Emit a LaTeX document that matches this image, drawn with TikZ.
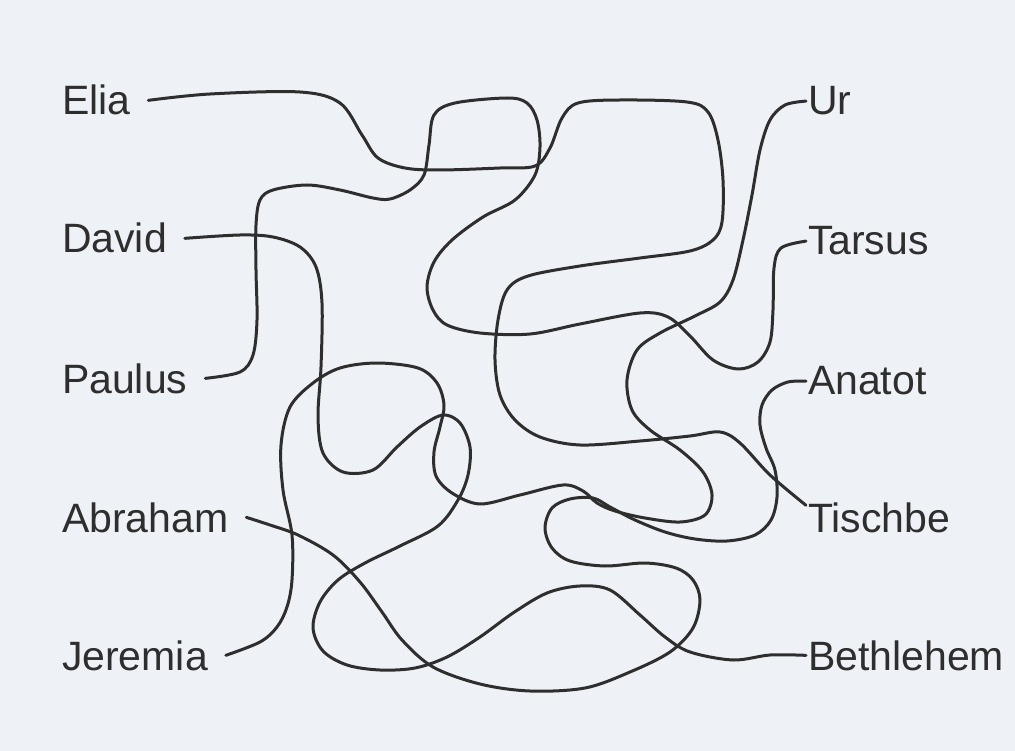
\documentclass[tikz,border=0pt]{standalone}
\usepackage{fontspec}
\setmainfont{Liberation Sans}
\definecolor{paper}{RGB}{238,241,246}
\definecolor{ink}{RGB}{46,46,46}

\begin{document}
\begin{tikzpicture}[x=1pt,y=-1pt,every node/.style={font=\fontsize{41}{41}\selectfont,text=ink,inner sep=2pt},lname/.style={anchor=base west,outer xsep=16pt},rname/.style={anchor=base west,outer xsep=0pt},wire/.style={ink,line width=3pt,line cap=round,line join=round}]
\fill[paper] (0,0) rectangle (1015,751);
\node[lname] (elia) at (44,115) {Elia};
\node[lname] (david) at (44,253) {David};
\node[lname] (paulus) at (44,393) {Paulus};
\node[lname] (abraham) at (44,532) {Abraham};
\node[lname] (jeremia) at (44,670) {Jeremia};
\node[rname] (ur) at (806,115) {Ur};
\node[rname] (tarsus) at (806,255) {Tarsus};
\node[rname] (anatot) at (806,395) {Anatot};
\node[rname] (tischbe) at (806,532) {Tischbe};
\node[rname] (bethlehem) at (806,670) {Bethlehem};
\draw[wire] plot[smooth,tension=0.55] coordinates {(elia.east) (210,94) (300,92) (340,103) (362,135) (378,158) (405,168) (440,170) (500,168) (535,166) (550,148) (562,118) (578,103) (620,100) (687,102) (708,112) (718,140) (723,180) (722,222) (713,240) (690,251) (640,258) (580,266) (528,276) (507,290) (498,320) (495,360) (500,395) (515,420) (540,437) (580,445) (640,441) (690,436) (720,432) (740,443) (770,475) ([yshift=12pt]tischbe.west)};
\draw[wire] plot[smooth,tension=0.55] coordinates {(paulus.east) (240,372) (253,355) (257,320) (256,270) (256,225) (260,200) (273,190) (307,185) (340,190) (373,198) (390,199) (410,190) (424,175) (429,145) (434,115) (455,103) (507,98) (527,103) (537,120) (540,147) (535,175) (515,200) (483,217) (452,240) (434,262) (427,287) (433,310) (447,325) (480,333) (530,334) (580,324) (640,313) (668,317) (690,336) (713,360) (738,369) (758,362) (770,342) (773,310) (774,268) (781,248) (tarsus.west)};
\draw[wire] plot[smooth,tension=0.55] coordinates {(ur.west) (785,105) (770,120) (760,150) (752,195) (743,240) (733,280) (720,302) (695,316) (660,333) (637,350) (627,380) (632,410) (650,430) (680,450) (703,472) (712,495) (705,515) (680,522) (645,518) (615,511) (597,503) (583,491) (563,485) (520,495) (480,504) (452,493) (436,476) (434,452) (440,427) (444,405) (437,383) (418,368) (377,363) (340,368) (313,383) (290,407) (281,445) (283,490) (292,535) (292,580) (287,607) (277,627) (260,642) (jeremia.east)};
\draw[wire] plot[smooth,tension=0.55] coordinates {(david.east) (240,235) (273,237) (300,247) (316,267) (322,303) (321,367) (318,417) (323,453) (343,472) (373,470) (397,447) (420,427) (443,415) (460,423) (470,447) (468,475) (458,500) (438,526) (400,546) (365,563) (338,580) (320,602) (313,628) (323,651) (347,665) (380,670) (415,668) (447,657) (480,637) (513,613) (547,593) (580,586) (610,590) (640,615) (665,637) (690,652) (733,660) (770,655) (bethlehem.west)};
\draw[wire] plot[smooth,tension=0.55] coordinates {(abraham.east) (270,525) (298,535) (333,555) (360,582) (382,612) (402,640) (433,667) (480,684) (530,691) (585,688) (630,672) (670,652) (693,628) (700,600) (693,580) (676,568) (645,563) (605,566) (570,561) (552,548) (545,528) (552,508) (570,499) (593,498) (610,507) (635,520) (665,532) (695,539) (727,541) (755,535) (771,520) (777,497) (775,470) (766,448) (760,425) (762,405) (772,390) (788,382) (anatot.west)};
\end{tikzpicture}
\end{document}
